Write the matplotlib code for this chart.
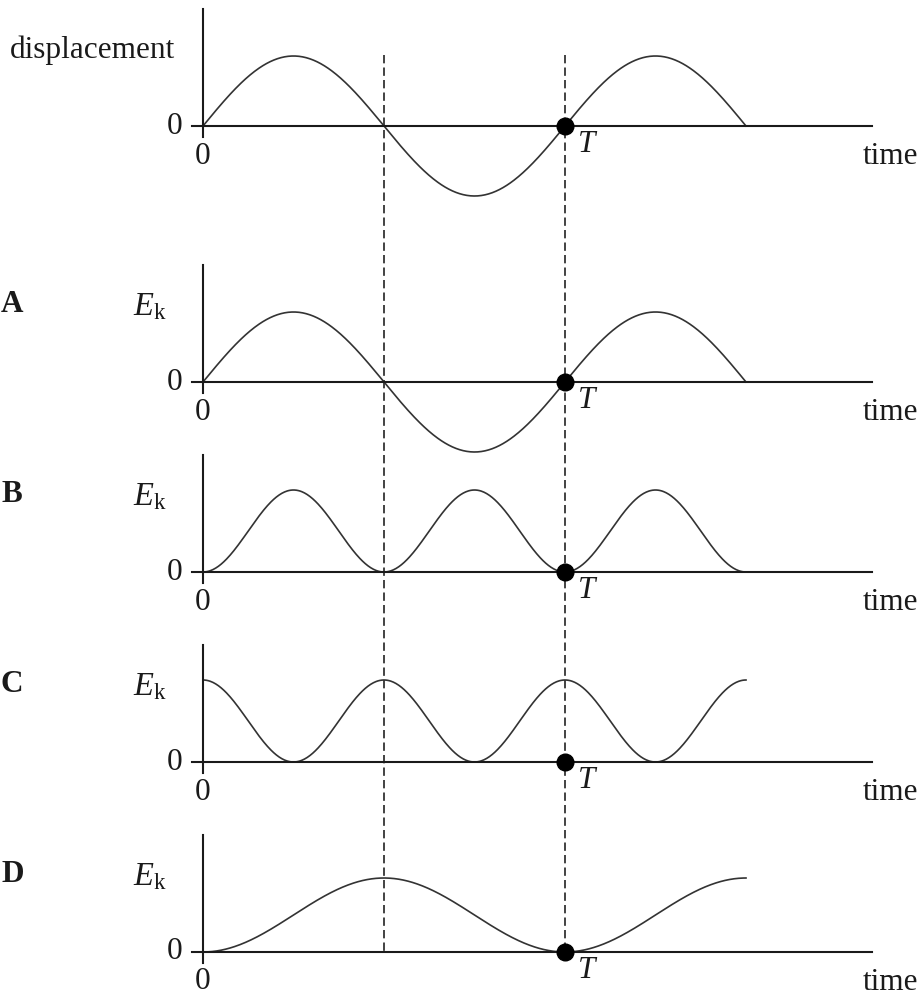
import numpy as np
import matplotlib
matplotlib.use("Agg")
import matplotlib.pyplot as plt

plt.rcParams["font.family"] = "Liberation Serif"
plt.rcParams["mathtext.fontset"] = "custom"
plt.rcParams["mathtext.rm"] = "Liberation Serif"
plt.rcParams["mathtext.it"] = "Liberation Serif:italic"

# ---- data ----
panel_letters = ["", "A", "B", "C", "D"]
panel_ylabels = ["displacement", r"$E_\mathrm{k}$", r"$E_\mathrm{k}$", r"$E_\mathrm{k}$", r"$E_\mathrm{k}$"]
# curve shape for each panel: displacement, then the four Ek options
panel_shapes = ["sin", "sin", "sin2", "cos2", "sin2_half"]
t_end = 1.5            # curves run for 1.5 periods
dot_time = 1.0         # the point T
dashed_times = [0.5, 1.0]

# ---- layout (pixels) ----
W, H = 923, 1000
x0, px_t = 203, 362                     # origin x and pixels per period
baselines = [126, 382, 572, 762, 952]
amps = [70, 70, 82, 82, 74]
axis_tops = [9, 265, 455, 645, 835]
t_lo, t_hi = -0.5, 1.99
fs = 22.5
ink = "#1a1a1a"
curve_col = "#333333"


def shape(name, t):
    if name == "sin":
        return np.sin(2 * np.pi * t)
    if name == "sin2":
        return np.sin(2 * np.pi * t) ** 2
    if name == "cos2":
        return np.cos(2 * np.pi * t) ** 2
    return np.sin(np.pi * t) ** 2


fig = plt.figure(figsize=(W / 100, H / 100), dpi=100)

# overlay for the dashed guide lines (same time scale, pixel y)
ov = fig.add_axes([(x0 + t_lo * px_t) / W, 0, (t_hi - t_lo) * px_t / W, 1], zorder=0)
ov.set_xlim(t_lo, t_hi)
ov.set_ylim(H, 0)
ov.axis("off")
ov.vlines(dashed_times, 55, baselines[-1], colors="#222222", lw=1.2,
          linestyles=(0, (5.0, 2.5)))

t = np.linspace(0, t_end, 600)
for i in range(5):
    yb, a = baselines[i], amps[i]
    y_lo, y_hi = -1.4, 2.0
    rect = [(x0 + t_lo * px_t) / W, (H - (yb - y_lo * a)) / H,
            (t_hi - t_lo) * px_t / W, (y_hi - y_lo) * a / H]
    ax = fig.add_axes(rect, zorder=1)
    ax.patch.set_alpha(0)
    ax.set_xlim(t_lo, t_hi)
    ax.set_ylim(y_lo, y_hi)
    ax.set_xticks([])
    ax.set_yticks([])
    for s in ["top", "right"]:
        ax.spines[s].set_visible(False)
    for s in ["left", "bottom"]:
        ax.spines[s].set_position(("data", 0))
        ax.spines[s].set_linewidth(1.5)
        ax.spines[s].set_color(ink)
    ax.spines["left"].set_bounds(-11 / a, (yb - axis_tops[i]) / a)
    ax.spines["bottom"].set_bounds(-11 / px_t, (872 - x0) / px_t)

    ax.plot(t, shape(panel_shapes[i], t), color=curve_col, lw=1.2, clip_on=False)
    ax.plot([dot_time], [0], "o", color="black", ms=12, clip_on=False, zorder=5)

    kw = dict(textcoords="offset pixels", fontsize=fs, color=ink)
    ax.annotate("0", (0, 0), xytext=(-28, 0), ha="center", va="center", **kw)
    ax.annotate("0", (0, 0), xytext=(0, -30), ha="center", va="center", **kw)
    ax.annotate("T", (dot_time, 0), xytext=(13, -19), ha="left", va="center",
                style="italic", **kw)
    ax.annotate("time", ((872 - x0) / px_t, 0), xytext=(-9, -31), ha="left",
                va="center", **kw)

    if panel_letters[i]:
        fig.text(1 / W, 1 - (yb - 77) / H, panel_letters[i], fontsize=fs,
                 fontweight="bold", ha="left", va="center", color=ink)
        fig.text(133 / W, 1 - (yb - 75) / H, panel_ylabels[i], fontsize=fs + 1,
                 ha="left", va="center", color=ink)
    else:
        fig.text(10 / W, 1 - (yb - 76) / H, panel_ylabels[i], fontsize=fs,
                 ha="left", va="center", color=ink)

fig.savefig("out.png", dpi=100)
